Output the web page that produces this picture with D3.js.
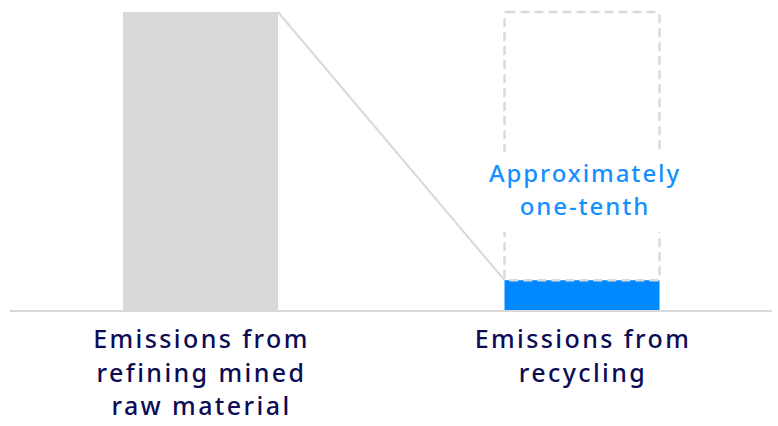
<!DOCTYPE html>
<html>
<head>
<meta charset="utf-8">
<script src="https://cdn.jsdelivr.net/npm/d3@7/dist/d3.min.js"></script>
<style>
  html, body { margin: 0; padding: 0; background: #fff; }
  svg { display: block; }
</style>
</head>
<body>
<svg id="chart" width="778" height="426"></svg>
<script>
// Relative CO2 emissions: mined-material refining vs. recycling
const categories = ["mined", "recycled"];
const values = [10, 1];
const referenceValue = 10; // outline showing the mined-material level over the recycled bar
const categoryLabels = [
  ["Emissions from", "refining mined", "raw material"],
  ["Emissions from", "recycling"]
];
const noteLines = ["Approximately", "one-tenth"];

const W = 778, H = 426;
const svg = d3.select("#chart");
const font = "'Noto Sans', 'DejaVu Sans', sans-serif";

const x = d3.scalePoint().domain(categories).range([200.5, 582]);
const barW = 155;
const y = d3.scaleLinear().domain([0, 10]).range([310, 12]);

const grey = "#d9d9d9";
const blue = "#0088ff";
const navy = "#0c0c55";

// connector from top of the mined bar down to the top of the recycled bar
svg.append("line")
  .attr("x1", x("mined") + barW / 2).attr("y1", y(values[0]))
  .attr("x2", x("recycled") - barW / 2).attr("y2", y(values[1]))
  .attr("stroke", grey).attr("stroke-width", 2);

// bars
svg.selectAll("rect.bar").data(categories).enter().append("rect")
  .attr("class", "bar")
  .attr("x", d => x(d) - barW / 2)
  .attr("width", barW)
  .attr("y", (d, i) => y(values[i]))
  .attr("height", (d, i) => y(0) - y(values[i]))
  .attr("fill", (d, i) => i === 0 ? grey : blue);

// dashed outline for the reference level
svg.append("rect")
  .attr("x", x("recycled") - barW / 2)
  .attr("y", y(referenceValue))
  .attr("width", barW)
  .attr("height", y(values[1]) - y(referenceValue))
  .attr("fill", "none")
  .attr("stroke", "#dadada")
  .attr("stroke-width", 2.5)
  .attr("stroke-dasharray", "9 5")
  .attr("rx", 2);

// baseline
svg.append("line")
  .attr("x1", 10).attr("x2", 772)
  .attr("y1", y(0) + 1).attr("y2", y(0) + 1)
  .attr("stroke", grey).attr("stroke-width", 2);

// note in the outline
const noteG = svg.append("g");
noteG.append("rect")
  .attr("x", x("recycled") - 100).attr("y", 152)
  .attr("width", 200).attr("height", 80)
  .attr("fill", "#fff");
noteG.selectAll("text").data(noteLines).enter().append("text")
  .attr("x", x("recycled") + 3)
  .attr("y", (d, i) => 182 + i * 33)
  .attr("text-anchor", "middle")
  .attr("font-family", font)
  .attr("font-size", 24)
  .attr("font-weight", 500)
  .attr("letter-spacing", 1.9)
  .attr("fill", "#1590ff")
  .text(d => d);

// category labels
categories.forEach((c, i) => {
  svg.append("g").selectAll("text").data(categoryLabels[i]).enter().append("text")
    .attr("x", x(c) + 1)
    .attr("y", (d, j) => 348 + j * 33.5)
    .attr("text-anchor", "middle")
    .attr("font-family", font)
    .attr("font-size", 25)
    .attr("font-weight", 500)
    .attr("letter-spacing", 2.4)
    .attr("fill", navy)
    .text(d => d);
});
</script>
</body>
</html>
